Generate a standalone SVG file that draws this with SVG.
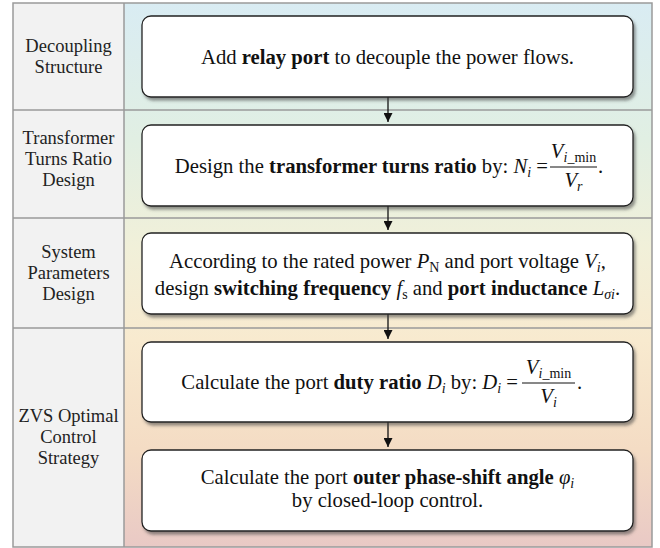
<svg xmlns="http://www.w3.org/2000/svg" width="660" height="548" viewBox="0 0 660 548">
  <defs>
    <linearGradient id="bandFill" x1="0" y1="0" x2="0" y2="1">
      <stop offset="0" stop-color="#d9ecf3"/>
      <stop offset="0.25" stop-color="#e1efe3"/>
      <stop offset="0.45" stop-color="#f1f0d9"/>
      <stop offset="0.62" stop-color="#f8eacf"/>
      <stop offset="0.82" stop-color="#f4dcc4"/>
      <stop offset="1" stop-color="#e9c9c5"/>
    </linearGradient>
    <filter id="shadow" x="-5%" y="-10%" width="115%" height="130%">
      <feDropShadow dx="2" dy="3" stdDeviation="1.5" flood-color="#444" flood-opacity="0.55"/>
    </filter>
    <marker id="arrowHead" viewBox="0 0 10 10" refX="10" refY="5" markerWidth="9" markerHeight="9" markerUnits="userSpaceOnUse" orient="auto">
      <path d="M0,0 L10,5 L0,10 Z" fill="#111"/>
    </marker>
  </defs>
  <style>
    .frame { fill: none; stroke: #9a9a9a; stroke-width: 1.5; }
    .label { font-family: "Liberation Serif", "Times New Roman", serif; font-size: 18.5px; fill: #222; text-anchor: middle; }
    .step { fill: #fff; stroke: #222; stroke-width: 1.3; filter: url(#shadow); }
    .txt { font-family: "Liberation Serif", "Times New Roman", serif; font-size: 20.7px; fill: #111; }
    .mid { text-anchor: middle; }
    .end { text-anchor: end; }
    .b { font-weight: bold; }
    .i { font-style: italic; }
    .sub { font-size: 14px; }
    .bar { stroke: #111; stroke-width: 1; }
    .conn { stroke: #111; stroke-width: 1.3; fill: none; marker-end: url(#arrowHead); }
  </style>

  <!-- background: label column and gradient band -->
  <rect x="13" y="3" width="111" height="544" fill="#f2f2f2"/>
  <rect x="124" y="3" width="528" height="544" fill="url(#bandFill)"/>
  <g id="grid">
    <rect class="frame" x="13" y="3" width="639" height="544"/>
    <line class="frame" x1="124" y1="3" x2="124" y2="547"/>
    <line class="frame" x1="13" y1="110" x2="652" y2="110"/>
    <line class="frame" x1="13" y1="218" x2="652" y2="218"/>
    <line class="frame" x1="13" y1="328" x2="652" y2="328"/>
  </g>

  <!-- stage labels -->
  <g id="label-decoupling">
    <text class="label" x="68.5" y="52">Decoupling</text>
    <text class="label" x="68.5" y="73">Structure</text>
  </g>
  <g id="label-turns">
    <text class="label" x="68.5" y="144">Transformer</text>
    <text class="label" x="68.5" y="165">Turns Ratio</text>
    <text class="label" x="68.5" y="186">Design</text>
  </g>
  <g id="label-params">
    <text class="label" x="68.5" y="258">System</text>
    <text class="label" x="68.5" y="279">Parameters</text>
    <text class="label" x="68.5" y="300">Design</text>
  </g>
  <g id="label-zvs">
    <text class="label" x="68.5" y="422">ZVS Optimal</text>
    <text class="label" x="68.5" y="443">Control</text>
    <text class="label" x="68.5" y="464">Strategy</text>
  </g>

  <!-- connectors -->
  <g id="connectors">
    <path class="conn" d="M388,97 V122"/>
    <path class="conn" d="M388,206 V230"/>
    <path class="conn" d="M388,314 V339"/>
    <path class="conn" d="M388,422 V447"/>
  </g>

  <!-- step boxes -->
  <g id="step-relay">
    <rect class="step" x="142" y="16" width="491" height="81" rx="9"/>
    <text class="txt mid" x="387.5" y="64">Add <tspan class="b">relay port</tspan> to decouple the power flows.</text>
  </g>

  <g id="step-turns">
    <rect class="step" x="142" y="125" width="491" height="81" rx="9"/>
    <text class="txt end" x="548" y="173">Design the <tspan class="b">transformer turns ratio</tspan> by: <tspan class="i">N</tspan><tspan class="i sub" dy="4">i</tspan><tspan dy="-4"> =</tspan></text>
    <text class="txt mid" x="573.5" y="158"><tspan class="i">V</tspan><tspan class="sub" dy="4"><tspan class="i">i</tspan>_min</tspan></text>
    <line class="bar" x1="550" y1="167" x2="597" y2="167"/>
    <text class="txt mid" x="573.5" y="187"><tspan class="i">V</tspan><tspan class="i sub" dy="4">r</tspan></text>
    <text class="txt" x="598" y="173">.</text>
  </g>

  <g id="step-params">
    <rect class="step" x="142" y="233" width="491" height="81" rx="9"/>
    <text class="txt mid" x="387.5" y="268">According to the rated power <tspan class="i">P</tspan><tspan class="sub" dy="4">N</tspan><tspan dy="-4"> and port voltage </tspan><tspan class="i">V</tspan><tspan class="i sub" dy="4">i</tspan><tspan dy="-4">,</tspan></text>
    <text class="txt mid" x="387.5" y="295">design <tspan class="b">switching frequency</tspan> <tspan class="i">f</tspan><tspan class="sub" dy="4">s</tspan><tspan dy="-4"> and </tspan><tspan class="b">port inductance</tspan> <tspan class="i">L</tspan><tspan class="i sub" dy="4">σi</tspan><tspan dy="-4">.</tspan></text>
  </g>

  <g id="step-duty">
    <rect class="step" x="142" y="342" width="491" height="80" rx="9"/>
    <text class="txt end" x="518" y="389">Calculate the port <tspan class="b">duty ratio</tspan> <tspan class="i">D</tspan><tspan class="i sub" dy="4">i</tspan><tspan dy="-4"> by: </tspan><tspan class="i">D</tspan><tspan class="i sub" dy="4">i</tspan><tspan dy="-4"> =</tspan></text>
    <text class="txt mid" x="548.5" y="374"><tspan class="i">V</tspan><tspan class="sub" dy="4"><tspan class="i">i</tspan>_min</tspan></text>
    <line class="bar" x1="522" y1="383" x2="575" y2="383"/>
    <text class="txt mid" x="548.5" y="403"><tspan class="i">V</tspan><tspan class="i sub" dy="4">i</tspan></text>
    <text class="txt" x="577" y="389">.</text>
  </g>

  <g id="step-phase">
    <rect class="step" x="142" y="450" width="491" height="81" rx="9"/>
    <text class="txt mid" x="387.5" y="484">Calculate the port <tspan class="b">outer phase-shift angle</tspan> <tspan class="i">φ</tspan><tspan class="i sub" dy="4">i</tspan></text>
    <text class="txt mid" x="387.5" y="507">by closed-loop control.</text>
  </g>
</svg>
